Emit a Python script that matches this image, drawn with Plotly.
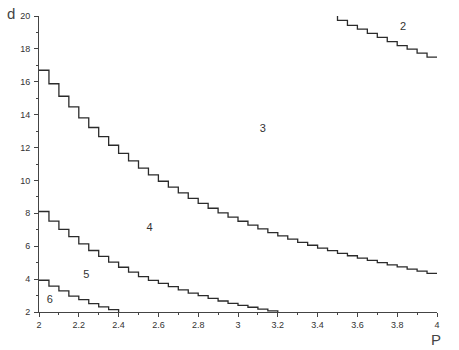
import plotly.graph_objects as go

# Region boundaries (step curves), P on x, d on y
p_34 = [2.00, 2.05, 2.10, 2.15, 2.20, 2.25, 2.30, 2.35, 2.40, 2.45,
        2.50, 2.55, 2.60, 2.65, 2.70, 2.75, 2.80, 2.85, 2.90, 2.95,
        3.00, 3.05, 3.10, 3.15, 3.20, 3.25, 3.30, 3.35, 3.40, 3.45,
        3.50, 3.55, 3.60, 3.65, 3.70, 3.75, 3.80, 3.85, 3.90, 3.95, 4.00]
d_34 = [16.70, 15.88, 15.12, 14.47, 13.80, 13.22, 12.67, 12.14, 11.65, 11.19,
        10.75, 10.34, 9.95, 9.59, 9.24, 8.91, 8.61, 8.31, 8.03, 7.77,
        7.52, 7.28, 7.05, 6.83, 6.63, 6.43, 6.24, 6.06, 5.89, 5.73,
        5.57, 5.42, 5.28, 5.14, 5.00, 4.87, 4.74, 4.61, 4.48, 4.35, 4.35]

p_45 = [2.00, 2.05, 2.10, 2.15, 2.20, 2.25, 2.30, 2.35, 2.40, 2.45,
        2.50, 2.55, 2.60, 2.65, 2.70, 2.75, 2.80, 2.85, 2.90, 2.95,
        3.00, 3.05, 3.10, 3.15, 3.20]
d_45 = [8.11, 7.53, 7.03, 6.58, 6.14, 5.74, 5.38, 5.03, 4.72, 4.43,
        4.15, 3.92, 3.74, 3.54, 3.34, 3.15, 2.99, 2.83, 2.67, 2.53,
        2.40, 2.29, 2.17, 2.07, 2.00]

p_56 = [2.00, 2.05, 2.10, 2.15, 2.20, 2.25, 2.30, 2.35, 2.40]
d_56 = [3.93, 3.57, 3.29, 2.97, 2.75, 2.51, 2.31, 2.14, 2.00]

p_23 = [3.45, 3.50, 3.55, 3.60, 3.65, 3.70, 3.75, 3.80, 3.85, 3.90, 3.95, 4.00]
d_23 = [20.30, 19.73, 19.43, 19.20, 18.94, 18.70, 18.44, 18.20, 17.98, 17.74, 17.50, 17.50]

region_labels = ["2", "3", "4", "5", "6"]
region_p = [3.83, 3.125, 2.556, 2.238, 2.054]
region_d = [19.33, 13.09, 7.11, 4.24, 2.69]

x_ticks = [2, 2.2, 2.4, 2.6, 2.8, 3, 3.2, 3.4, 3.6, 3.8, 4]
y_ticks = [2, 4, 6, 8, 10, 12, 14, 16, 18, 20]

LINE = "#2b2b2b"
FONT = "Liberation Sans, Arial, sans-serif"

fig = go.Figure()
for px_, dy_ in [(p_34, d_34), (p_45, d_45), (p_56, d_56), (p_23, d_23)]:
    fig.add_trace(go.Scatter(x=px_, y=dy_, mode="lines",
                             line=dict(shape="hv", color=LINE, width=1.3),
                             showlegend=False, hoverinfo="skip"))

fig.add_trace(go.Scatter(x=region_p, y=region_d, mode="text", text=region_labels,
                         textfont=dict(family=FONT, size=11, color="#333333"),
                         showlegend=False, hoverinfo="skip"))

fig.update_xaxes(range=[2, 4], tickvals=x_ticks, ticktext=[f"{v:g}" for v in x_ticks],
                 showgrid=False, zeroline=False, showline=True, linecolor="#444444",
                 linewidth=1, ticks="outside", ticklen=4, tickcolor="#444444",
                 tickfont=dict(family=FONT, size=9, color="#333333"),
                 minor=dict(dtick=0.1, ticks="outside", ticklen=2, tickcolor="#444444", showgrid=False))
fig.update_yaxes(range=[2, 20], tickvals=y_ticks,
                 showgrid=False, zeroline=False, showline=True, linecolor="#444444",
                 linewidth=1, ticks="outside", ticklen=4, tickcolor="#444444",
                 ticklabelstandoff=2,
                 tickfont=dict(family=FONT, size=9, color="#333333"),
                 minor=dict(dtick=1, ticks="outside", ticklen=2, tickcolor="#444444", showgrid=False))

fig.add_annotation(text="d", xref="paper", yref="paper", x=-0.071, y=1.01,
                   xanchor="center", yanchor="middle", showarrow=False,
                   font=dict(family=FONT, size=15, color="#444444"))
fig.add_annotation(text="P", xref="paper", yref="paper", x=0.997, y=-0.092,
                   xanchor="center", yanchor="middle", showarrow=False,
                   font=dict(family=FONT, size=15, color="#444444"))

fig.update_layout(width=459, height=350, margin=dict(l=39, r=22, t=11, b=38),
                  plot_bgcolor="white", paper_bgcolor="white")

fig.write_html("out.html", config={"displayModeBar": False},
               post_script="document.body.style.margin='0';document.body.style.padding='0';")
